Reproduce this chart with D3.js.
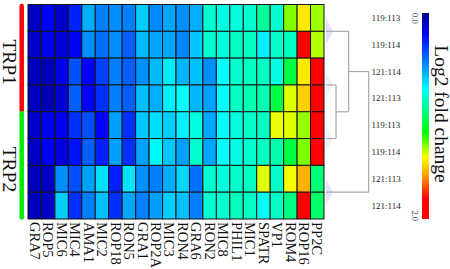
<!DOCTYPE html>
<html>
<head>
<meta charset="utf-8">
<script src="https://cdn.jsdelivr.net/npm/d3@7"></script>
<style>
  body { margin: 0; background: #fff; }
  svg { display: block; font-family: "Liberation Serif", "Times New Roman", serif; }
</style>
</head>
<body>
<svg id="chart" width="450" height="269"></svg>
<script>
// гены по оси X
const genes = ["GRA7", "ROP5", "MIC6", "MIC4", "AMA1", "MIC2", "ROP18", "RON5", "GRA1", "ROP2A", "MIC3",
               "RON4", "GRA6", "RON2", "MIC8", "PHIL1", "MIC1", "SPATR", "VP1", "ROM4", "ROP16", "PP2C"];

// подписи строк (справа)
const rowLabels = ["119:113", "119:114", "121:114", "121:113", "119:113", "119:114", "121:113", "121:114"];

// группы слева
const groupNames = ["TRP1", "TRP2"];
const groupRows = [[0, 3], [4, 7]];

// log2 fold change, по строкам
const row0 = [0.11, 0.20, 0.115, 0.27, 0.575, 0.48, 0.51, 0.48, 0.64, 0.50, 0.56, 0.51, 0.575, 0.82, 0.79, 0.79, 0.82, 0.91, 0.82, 1.28, 1.44, 1.31];
const row1 = [0.115, 0.17, 0.14, 0.20, 0.51, 0.445, 0.51, 0.41, 0.595, 0.56, 0.56, 0.495, 0.625, 0.82, 0.80, 0.84, 0.84, 0.71, 0.83, 0.84, 1.90, 1.33];
const row2 = [0.10, 0.09, 0.17, 0.375, 0.20, 0.34, 0.48, 0.41, 0.51, 0.60, 0.70, 0.595, 0.61, 0.51, 0.74, 0.82, 0.84, 0.84, 0.79, 1.055, 1.44, 1.90];
const row3 = [0.10, 0.08, 0.14, 0.41, 0.20, 0.305, 0.48, 0.41, 0.61, 0.575, 0.71, 0.74, 0.595, 0.545, 0.74, 0.84, 0.865, 0.865, 1.055, 1.37, 1.485, 1.90];
const row4 = [0.11, 0.17, 0.17, 0.305, 0.375, 0.20, 0.545, 0.305, 0.625, 0.675, 0.64, 0.71, 0.79, 0.56, 0.74, 0.79, 0.83, 0.84, 1.38, 1.37, 1.30, 1.90];
const row5 = [0.11, 0.19, 0.15, 0.235, 0.41, 0.27, 0.545, 0.305, 0.545, 0.725, 0.625, 0.545, 0.82, 0.56, 0.74, 0.78, 0.82, 0.84, 0.88, 1.055, 1.28, 1.90];
const row6 = [0.10, 0.11, 0.51, 0.375, 0.545, 0.675, 0.27, 0.69, 0.51, 0.48, 0.575, 0.66, 0.445, 0.82, 0.80, 0.82, 0.84, 1.37, 0.83, 1.39, 1.54, 0.97];
const row7 = [0.10, 0.11, 0.64, 0.305, 0.48, 0.61, 0.305, 0.56, 0.48, 0.545, 0.64, 0.61, 0.48, 0.82, 0.82, 0.855, 0.84, 0.76, 0.84, 0.95, 1.90, 0.99];
const rows = [row0, row1, row2, row3, row4, row5, row6, row7];

// шкала цвета
const colorDomain = [0, 0.2, 0.48, 0.74, 0.95, 1.16, 1.4, 1.6, 1.8, 2.0];
const colorTicks = [0, 2];

// дендрограмма: свернутые кластеры (пары строк) и слияния
const clusters = [[0, 1], [2, 3], [4, 5], [6, 7]];
const merges = [
    {a: "c1", b: "c2", h: 0.47, id: "m1"},
    {a: "c0", b: "m1", h: 1.06, id: "m2"},
    {a: "m2", b: "c3", h: 2.0, id: "m3"}
];

const svg = d3.select("#chart");

const colorRange = ["#00007f", "#0000ff", "#0080ff", "#00ffff", "#00ff80", "#00ff00",
                    "#ffff00", "#ff9000", "#ff0000", "#ff0000"];
const color = d3.scaleLinear().domain(colorDomain).range(colorRange).clamp(true);

const scX = d3.scaleBand().domain(genes).range([28, 324]);
const scY = d3.scaleBand().domain(d3.range(rowLabels.length)).range([4.5, 219]);

// ячейки
const cells = [];
rows.forEach((r, i) => r.forEach((v, j) => cells.push({row: i, gene: genes[j], v: v})));

svg.append("g")
    .selectAll("rect")
    .data(cells)
    .enter()
    .append("rect")
    .attr("x", d => scX(d.gene))
    .attr("y", d => scY(d.row))
    .attr("width", scX.bandwidth())
    .attr("height", scY.bandwidth())
    .style("fill", d => color(d.v))
    .style("stroke", "#151515")
    .style("stroke-width", 1);

// подписи генов - вертикальные
svg.append("g")
    .selectAll("text")
    .data(genes)
    .enter()
    .append("text")
    .attr("transform", d => `translate(${scX(d) + scX.bandwidth() / 2}, 222) rotate(90)`)
    .attr("dy", "0.33em")
    .style("font-size", "14.5px")
    .style("fill", "#111")
    .text(d => d);

// группы слева
const groupColors = ["#ff0000", "#00ee00"];
groupNames.forEach((name, k) => {
    const y0 = scY(groupRows[k][0]) + 1.5;
    const y1 = scY(groupRows[k][1]) + scY.bandwidth() - 1.5;
    svg.append("line")
        .attr("x1", 21.7).attr("x2", 21.7)
        .attr("y1", y0).attr("y2", y1)
        .style("stroke", groupColors[k])
        .style("stroke-width", 4.5)
        .style("stroke-linecap", "round");
    svg.append("text")
        .attr("transform", `translate(3, ${(y0 + y1) / 2 + 4}) rotate(90)`)
        .attr("text-anchor", "middle")
        .style("font-size", "19.5px")
        .style("fill", "#111")
        .text(name);
});

// дендрограмма
const scH = d3.scaleLinear().domain([0, 2]).range([326, 368.7]);
const nodes = {};
clusters.forEach((c, i) => {
    nodes["c" + i] = {y: (scY(c[0]) + scY(c[1]) + scY.bandwidth()) / 2, h: 0, leaf: true};
});
merges.forEach(m => {
    nodes[m.id] = {y: (nodes[m.a].y + nodes[m.b].y) / 2, h: m.h};
});

const dendro = svg.append("g");

// треугольники свернутых узлов
clusters.forEach((c, i) => {
    const y = nodes["c" + i].y;
    const op = (i == 0 || i == 3) ? 0.55 : 0.25;
    dendro.append("path")
        .attr("d", `M${scH(0)},${y - 13} L${scH(0) + 7},${y} L${scH(0)},${y + 13} Z`)
        .style("fill", "#c8c8f4")
        .style("opacity", op);
});

merges.forEach(m => {
    const xm = scH(m.h);
    [m.a, m.b].forEach(ch => {
        dendro.append("line")
            .attr("x1", scH(nodes[ch].h)).attr("x2", xm)
            .attr("y1", nodes[ch].y).attr("y2", nodes[ch].y)
            .style("stroke", "#a8a8a8").style("stroke-width", 1.2);
    });
    dendro.append("line")
        .attr("x1", xm).attr("x2", xm)
        .attr("y1", nodes[m.a].y).attr("y2", nodes[m.b].y)
        .style("stroke", "#a8a8a8").style("stroke-width", 1.2);
});

// подписи строк
svg.append("g")
    .selectAll("text")
    .data(rowLabels)
    .enter()
    .append("text")
    .attr("x", 371.5)
    .attr("y", (d, i) => scY(i) + scY.bandwidth() / 2)
    .attr("dy", "0.35em")
    .style("font-size", "9px")
    .style("fill", "#222")
    .text(d => d);

// цветовая шкала
const scBar = d3.scaleLinear().domain([0, 2]).range([13, 219]);
const grad = svg.append("defs").append("linearGradient")
    .attr("id", "cbar")
    .attr("x1", 0).attr("x2", 0).attr("y1", 0).attr("y2", 1);
grad.selectAll("stop")
    .data(colorDomain)
    .enter()
    .append("stop")
    .attr("offset", d => d / 2)
    .attr("stop-color", d => color(d));

svg.append("rect")
    .attr("x", 422)
    .attr("y", scBar(0))
    .attr("width", 7)
    .attr("height", scBar(2) - scBar(0))
    .style("fill", "url(#cbar)");

svg.append("g")
    .selectAll("text")
    .data(colorTicks)
    .enter()
    .append("text")
    .attr("transform", d => `translate(411.5, ${d == 0 ? scBar(d) : scBar(d) + 2}) rotate(90)`)
    .attr("text-anchor", d => d == 0 ? "start" : "end")
    .style("font-size", "8.5px")
    .style("fill", "#333")
    .text(d => d3.format(".1f")(d));

svg.append("text")
    .attr("transform", `translate(435, 114) rotate(90)`)
    .attr("text-anchor", "middle")
    .style("font-size", "19.5px")
    .style("fill", "#111")
    .text("Log2 fold change");
</script>
</body>
</html>
